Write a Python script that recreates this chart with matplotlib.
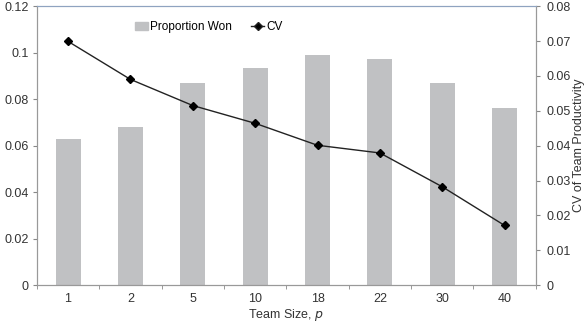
import matplotlib
matplotlib.use("Agg")
import matplotlib.pyplot as plt
from matplotlib.lines import Line2D
from matplotlib.patches import Patch
import numpy as np

plt.rcParams['font.family'] = ['Liberation Sans', 'DejaVu Sans']

team_sizes = ['1', '2', '5', '10', '18', '22', '30', '40']
proportion_won = [0.0627, 0.068, 0.087, 0.0932, 0.0992, 0.0973, 0.087, 0.0764]
cv = [0.0699, 0.059, 0.0515, 0.0464, 0.0401, 0.0379, 0.0282, 0.0171]
left_ticks = [0, 0.02, 0.04, 0.06, 0.08, 0.1, 0.12]
left_labels = ['0', '0.02', '0.04', '0.06', '0.08', '0.1', '0.12']
right_ticks = [0, 0.01, 0.02, 0.03, 0.04, 0.05, 0.06, 0.07, 0.08]
right_labels = ['0', '0.01', '0.02', '0.03', '0.04', '0.05', '0.06', '0.07', '0.08']

fig = plt.figure(figsize=(5.85, 3.24), dpi=100)
ax = fig.add_axes([0.063, 0.120, 0.853, 0.861])
x = np.arange(len(team_sizes))
ax.bar(x, proportion_won, width=0.4, color='#c0c1c3', zorder=1)
ax.set_xlim(-0.5, len(team_sizes) - 0.5)
ax.set_ylim(0, 0.12)
ax.set_yticks(left_ticks)
ax.set_yticklabels(left_labels)
ax.set_xticks(x)
ax.set_xticklabels(team_sizes)
ax.set_xticks(np.arange(-0.5, len(team_sizes)), minor=True)
ax.tick_params(axis='x', which='major', length=0, pad=6)
ax.tick_params(axis='x', which='minor', length=3, color='#888888', direction='out')
ax.tick_params(axis='y', length=3, color='#888888', direction='out', pad=3)
ax.tick_params(labelsize=9, labelcolor='#333333')
for s in ['left', 'bottom', 'right']:
    ax.spines[s].set_color('#999999')
ax.spines['top'].set_color('#8fa3c0')
ax.set_xlabel('Team Size, $p$', fontsize=9, labelpad=1, color='#333333')

ax2 = ax.twinx()
ax2.plot(x, cv, color='#222222', lw=1.0, marker='D', markersize=4.5, markerfacecolor='black',
         markeredgecolor='black', zorder=3)
ax2.set_ylim(0, 0.08)
ax2.set_yticks(right_ticks)
ax2.set_yticklabels(right_labels)
ax2.tick_params(axis='y', length=3, color='#888888', direction='out', labelsize=9,
                labelcolor='#333333', pad=5)
for s in ['left', 'bottom', 'right']:
    ax2.spines[s].set_color('#999999')
ax2.spines['top'].set_color('#8fa3c0')
ax2.set_ylabel('CV of Team Productivity', fontsize=9, labelpad=1, color='#333333')

handles = [Patch(color='#c0c1c3', label='Proportion Won'),
           Line2D([0], [0], color='#222222', lw=1, marker='D', markersize=4,
                  markerfacecolor='black', label='CV')]
ax2.legend(handles=handles, loc='upper center', bbox_to_anchor=(0.345, 0.985), ncol=2,
           frameon=False, fontsize=8.5, handlelength=1.1, handleheight=0.7,
           columnspacing=1.6, handletextpad=0.2)

fig.savefig('out.png', dpi=100)
